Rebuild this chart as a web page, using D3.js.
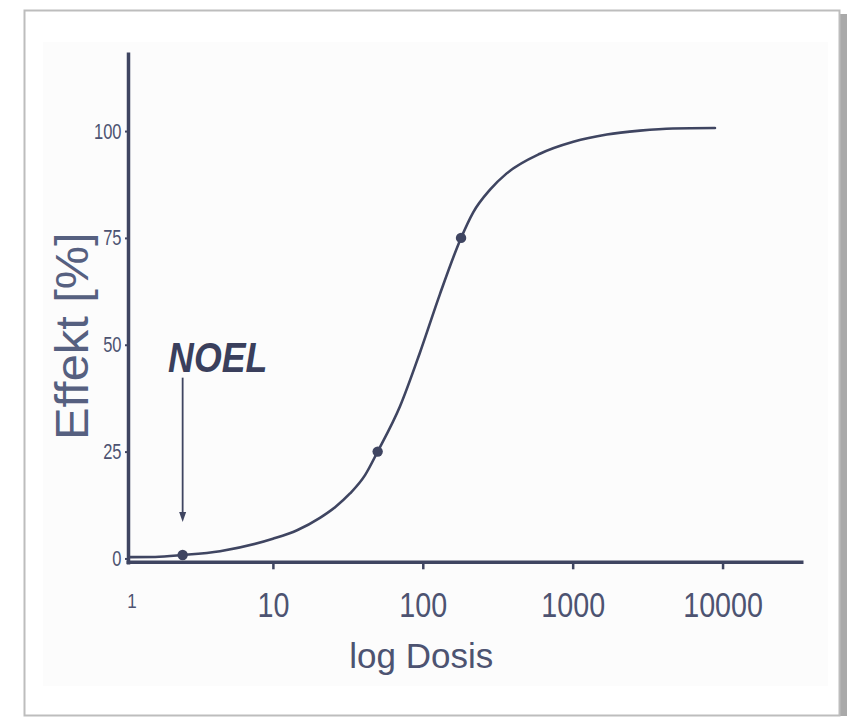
<!DOCTYPE html>
<html>
<head>
<meta charset="utf-8">
<script src="https://cdn.jsdelivr.net/npm/d3@7/dist/d3.min.js"></script>
<style>
  html, body { margin: 0; padding: 0; background: #ffffff; }
  svg { display: block; }
</style>
</head>
<body>
<svg id="chart" width="848" height="717"></svg>
<script>
// Dose–response curve (log dose vs. effect in %)
const doses   = [1.11, 1.64, 2.5, 4.44, 10, 14.5, 20.6, 26, 32.7, 41.2, 50, 70.5, 95.8, 130, 180, 217, 281, 363, 605, 1010, 1690, 2810, 4670, 8900];
const effects = [0.3, 0.35, 0.8, 1.7, 4.6, 6.6, 9.5, 12.0, 15.2, 19.5, 25, 35.6, 48.2, 61.8, 75, 81.0, 86.3, 90.1, 94.7, 97.5, 99.2, 100.1, 100.6, 100.7];

// Highlighted points on the curve
const markedDoses   = [2.5, 50, 180];
const markedEffects = [0.8, 25, 75];

// Axis ticks
const xTickValues = [1, 10, 100, 1000, 10000];
const xTickLabels = ["1", "10", "100", "1000", "10000"];
const yTickValues = [0, 25, 50, 75, 100];
const yTickLabels = ["0", "25", "50", "75", "100"];

// NOEL annotation (dose of the arrow, arrow start/end effect, label anchor)
const noelDose = 2.5;
const noelArrowFrom = 42.3;
const noelArrowTo = 8.5;
const noelLabel = "NOEL";
const noelLabelDose = 2.0;
const noelLabelEffect = 43.6;

const xTitle = "log Dosis";
const yTitle = "Effekt [%]";

const ink = "#3f4561";
const textInk = "#4d5371";
const titleInk = "#566080";
const sans = "'Liberation Sans', Arial, sans-serif";

const svg = d3.select("#chart");

// page frame with a soft shadow on the right
svg.append("rect").attr("x", 838).attr("y", 14).attr("width", 9).attr("height", 702).attr("fill", "#a9a9a9");
svg.append("rect").attr("x", 24.5).attr("y", 10.5).attr("width", 815).attr("height", 705)
  .attr("fill", "#ffffff").attr("stroke", "#bdbdbd").attr("stroke-width", 2);
svg.append("rect").attr("x", 43).attr("y", 42).attr("width", 785).attr("height", 644).attr("fill", "#fcfcfc");

// scales
const x = d3.scaleLog().domain([1, Math.pow(10, 4.54)]).range([123, 803.5]);
const y = d3.scaleLinear().domain([-1.3, 118.5]).range([564, 52]);

const axisX0 = 128;   // where the vertical axis sits
const axisY0 = y(-0.9);

// y axis (condensed figures)
const gy = svg.append("g").attr("transform", `translate(${axisX0},0)`)
  .call(d3.axisLeft(y).tickValues(yTickValues).tickFormat((d, i) => yTickLabels[i])
    .tickSize(3).tickSizeOuter(0).tickPadding(3));
gy.select(".domain").attr("stroke", ink).attr("stroke-width", 3.5);
gy.selectAll(".tick line").attr("stroke", ink).attr("stroke-width", 2);
gy.selectAll(".tick text").attr("fill", textInk).attr("x", 0)
  .attr("transform", "translate(-6.5,0) scale(0.75,1)")
  .style("font-family", sans).style("font-size", "22px");

// x axis
const gx = svg.append("g").attr("transform", `translate(0,${axisY0})`)
  .call(d3.axisBottom(x).tickValues(xTickValues).tickFormat((d, i) => xTickLabels[i])
    .tickSize(7).tickSizeOuter(0).tickPadding(23));
gx.select(".domain").remove();
gx.append("line").attr("x1", axisX0 - 1.5).attr("x2", x.range()[1]).attr("y1", 0).attr("y2", 0)
  .attr("stroke", ink).attr("stroke-width", 3.5);
gx.selectAll(".tick line").attr("stroke", ink).attr("stroke-width", 2.5)
  .attr("display", d => d === 1 ? "none" : null);
gx.selectAll(".tick text").attr("fill", textInk)
  .attr("transform", "scale(0.82,1)")
  .style("font-family", sans).style("font-size", "35px");
// the unit label at the origin is set smaller, just right of the axis corner
gx.selectAll(".tick").filter(d => d === 1).select("text")
  .style("font-size", "20px").attr("transform", "translate(8.5,0) scale(0.85,1)").attr("y", 32);

// axis titles
svg.append("text").attr("x", (x(1) + x.range()[1]) / 2 - 42).attr("y", 668)
  .attr("text-anchor", "middle").attr("fill", textInk)
  .style("font-family", sans).style("font-size", "35px")
  .text(xTitle);
svg.append("text").attr("transform", `translate(88,${y(52)}) rotate(-90) scale(1.06,1)`)
  .attr("text-anchor", "middle").attr("fill", titleInk)
  .style("font-family", sans).style("font-size", "46px")
  .text(yTitle);

// the curve
const pts = doses.map((d, i) => [x(d), y(effects[i])]);
svg.append("path").attr("d", d3.line().curve(d3.curveMonotoneX)(pts))
  .attr("fill", "none").attr("stroke", ink).attr("stroke-width", 2.6).attr("stroke-linecap", "round");

// marked points
svg.selectAll("circle.pt").data(markedDoses).join("circle").attr("class", "pt")
  .attr("cx", d => x(d)).attr("cy", (d, i) => y(markedEffects[i])).attr("r", 5.2).attr("fill", ink);

// NOEL arrow
const ax = x(noelDose);
const y1 = y(noelArrowFrom), y2 = y(noelArrowTo);
svg.append("line").attr("x1", ax).attr("x2", ax).attr("y1", y1).attr("y2", y2 - 8)
  .attr("stroke", ink).attr("stroke-width", 1.8);
svg.append("path").attr("d", `M${ax - 3.5},${y2 - 10} L${ax + 3.5},${y2 - 10} L${ax},${y2} Z`).attr("fill", ink);

svg.append("text")
  .attr("transform", `translate(${x(noelLabelDose)},${y(noelLabelEffect)}) scale(0.85,1)`)
  .attr("fill", "#3a3f5c")
  .style("font-family", sans)
  .style("font-size", "42px").style("font-weight", "bold").style("font-style", "italic")
  .text(noelLabel);
</script>
</body>
</html>
